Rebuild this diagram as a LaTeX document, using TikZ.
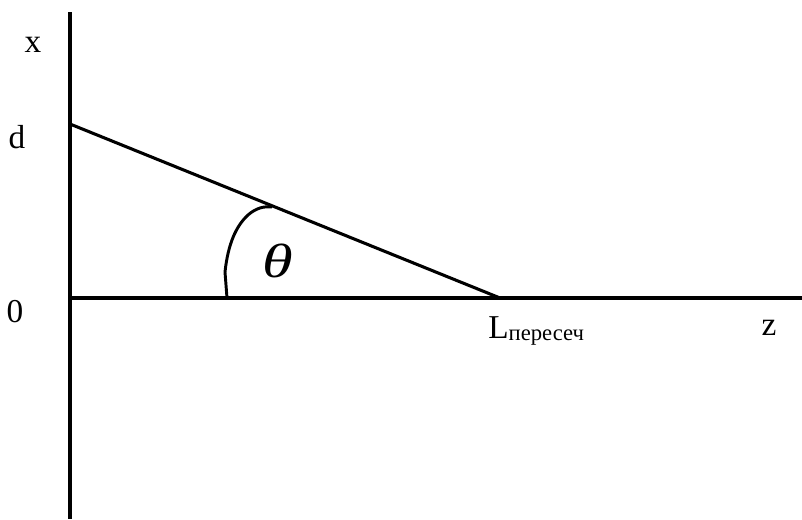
\documentclass[tikz,border=0pt]{standalone}
\usepackage{fontspec}
\setmainfont{Liberation Serif}
\begin{document}
\begin{tikzpicture}[x=0.75pt,y=-0.75pt,
  axis/.style={line width=2.3pt},
  lbl/.style={font=\fontsize{25}{28}\selectfont, inner sep=0pt}]
\useasboundingbox (0,0) rectangle (802,519);
\coordinate (top) at (70,12);
\coordinate (bot) at (70,519);
\coordinate (o) at (70,298);
\coordinate (zend) at (802,298);
\coordinate (dpt) at (70,124);
\coordinate (lpt) at (500,298);
\draw[axis] (top) -- (bot);
\draw[axis] (o) -- (zend);
\draw[axis] (dpt) -- (lpt);
\coordinate (a0) at (227,298);
\coordinate (a1) at (272,207);
\draw[line width=2.2pt] (a0) -- (225,272) .. controls (228,244) and (236,226) .. (248,215) .. controls (256,208) and (264,206) .. (a1);
\node[lbl] (xl) at (33,45) {x};
\node[lbl] (dl) at (17,137) {d};
\node[lbl] (zero) at (15,312) {0};
\node[lbl, anchor=base west] (ll) at (488,338) {L\raisebox{-1.5pt}{\fontsize{17}{20}\selectfont пересеч}};
\node[lbl] (zl) at (769,328) {z};
\node[inner sep=0pt, xscale=1.3] (th) at (278,261) {\fontsize{36}{40}\selectfont\itshape θ};
\end{tikzpicture}
\end{document}
